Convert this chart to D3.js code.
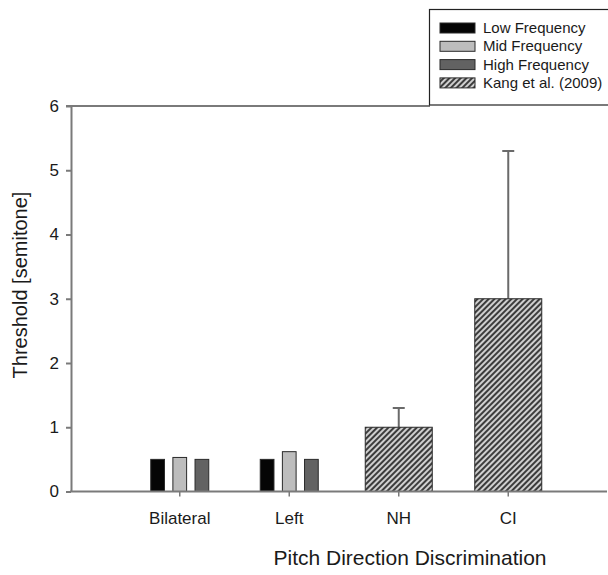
<!DOCTYPE html>
<html>
<head>
<meta charset="utf-8">
<script src="https://cdn.jsdelivr.net/npm/d3@7"></script>
<style>
  body { margin: 0; background: #fff; }
  svg { display: block; font-family: "Liberation Sans", Arial, sans-serif; }
</style>
</head>
<body>
<div id="chart"></div>
<script>
// Pitch direction discrimination thresholds
const categories = ['Bilateral', 'Left', 'NH', 'CI'];
const freqGroups = ['Bilateral', 'Left'];
const lowFreq = [0.5, 0.5];
const midFreq = [0.53, 0.62];
const highFreq = [0.5, 0.5];
const kangGroups = ['NH', 'CI'];
const kangValues = [1.0, 3.0];
const kangErr = [0.3, 2.3];
const yTicks = [0, 1, 2, 3, 4, 5, 6];
const legendLabels = ['Low Frequency', 'Mid Frequency', 'High Frequency', 'Kang et al. (2009)'];

const width = 608, height = 575;
const axisColor = '#7a7a7a';
const textColor = '#1a1a1a';
const fontFamily = '"Liberation Sans", Arial, sans-serif';
const fills = ['#050505', '#bdbdbd', '#626262'];

const svg = d3.select('#chart').append('svg')
    .attr('width', width)
    .attr('height', height);

const defs = svg.append('defs');
const hatch = defs.append('pattern')
    .attr('id', 'hatch')
    .attr('patternUnits', 'userSpaceOnUse')
    .attr('width', 4)
    .attr('height', 4)
    .attr('patternTransform', 'rotate(45)');
hatch.append('rect').attr('width', 4).attr('height', 4).attr('fill', '#cfcfcf');
hatch.append('rect').attr('width', 2).attr('height', 4).attr('fill', '#3c3c3c');

// scales
const x = d3.scaleBand().domain(categories).range([125, 563]).padding(0);
const y = d3.scaleLinear().domain([0, 6]).range([491.5, 106]);

// three small bars inside each frequency group
const sub = d3.scaleBand().domain([0, 1, 2]).range([-29, 29]).paddingInner(0.38);
const kangWidth = 67;

// top frame line
svg.append('line')
    .attr('x1', 66).attr('x2', 430)
    .attr('y1', y(6)).attr('y2', y(6))
    .attr('stroke', axisColor).attr('stroke-width', 2);

// bars
const freqSeries = [lowFreq, midFreq, highFreq];
freqSeries.forEach((vals, s) => {
    svg.append('g').selectAll('rect')
        .data(freqGroups)
        .enter().append('rect')
        .attr('x', (d, i) => x(d) + x.bandwidth() / 2 + sub(s))
        .attr('y', (d, i) => y(vals[i]))
        .attr('width', sub.bandwidth())
        .attr('height', (d, i) => y(0) - y(vals[i]))
        .attr('fill', fills[s])
        .attr('stroke', '#2a2a2a')
        .attr('stroke-width', 1);
});

// error bars for Kang et al. (upper only)
const errG = svg.append('g');
kangGroups.forEach((d, i) => {
    const cx = x(d) + x.bandwidth() / 2;
    errG.append('line')
        .attr('x1', cx).attr('x2', cx)
        .attr('y1', y(kangValues[i])).attr('y2', y(kangValues[i] + kangErr[i]))
        .attr('stroke', '#6a6a6a').attr('stroke-width', 2);
    errG.append('line')
        .attr('x1', cx - 6).attr('x2', cx + 6)
        .attr('y1', y(kangValues[i] + kangErr[i])).attr('y2', y(kangValues[i] + kangErr[i]))
        .attr('stroke', '#6a6a6a').attr('stroke-width', 2);
});

svg.append('g').selectAll('rect')
    .data(kangGroups)
    .enter().append('rect')
    .attr('x', d => x(d) + x.bandwidth() / 2 - kangWidth / 2)
    .attr('y', (d, i) => y(kangValues[i]))
    .attr('width', kangWidth)
    .attr('height', (d, i) => y(0) - y(kangValues[i]))
    .attr('fill', 'url(#hatch)')
    .attr('stroke', '#2a2a2a')
    .attr('stroke-width', 1);

// y axis
const yAxis = svg.append('g')
    .attr('transform', 'translate(71,0)')
    .call(d3.axisLeft(y).tickValues(yTicks).tickSize(5).tickSizeOuter(0).tickFormat(d3.format('d')))
    .attr('font-family', fontFamily);
yAxis.select('.domain').attr('stroke', axisColor).attr('stroke-width', 2);
yAxis.selectAll('.tick line').attr('stroke', axisColor).attr('stroke-width', 2);
yAxis.selectAll('.tick text')
    .attr('x', -12)
    .attr('fill', textColor)
    .style('font-size', '17px');

// x axis
svg.append('line')
    .attr('x1', 70).attr('x2', 607)
    .attr('y1', y(0)).attr('y2', y(0))
    .attr('stroke', axisColor).attr('stroke-width', 2);
const xAxis = svg.append('g')
    .attr('transform', `translate(0,${y(0)})`)
    .call(d3.axisBottom(x).tickSize(5).tickSizeOuter(0))
    .attr('font-family', fontFamily);
xAxis.select('.domain').remove();
xAxis.selectAll('.tick line').attr('stroke', axisColor).attr('stroke-width', 1.5);
xAxis.selectAll('.tick text')
    .attr('y', 20)
    .attr('fill', textColor)
    .style('font-size', '17px');

// axis titles
svg.append('text')
    .attr('transform', 'translate(27,285) rotate(-90)')
    .attr('text-anchor', 'middle')
    .attr('fill', textColor)
    .style('font-size', '20px')
    .text('Threshold [semitone]');

svg.append('text')
    .attr('x', 410)
    .attr('y', 565)
    .attr('text-anchor', 'middle')
    .attr('fill', textColor)
    .style('font-size', '21px')
    .text('Pitch Direction Discrimination');

// legend
const legend = svg.append('g');
legend.append('rect')
    .attr('x', 429.5).attr('y', 9.5)
    .attr('width', 190).attr('height', 95.5)
    .attr('fill', '#fff')
    .attr('stroke', '#222').attr('stroke-width', 1.2);
const legendFills = [fills[0], fills[1], fills[2], 'url(#hatch)'];
legendLabels.forEach((label, i) => {
    const ly = 28 + i * 18.3;
    legend.append('rect')
        .attr('x', 440).attr('y', ly - 5)
        .attr('width', 35).attr('height', 10)
        .attr('fill', legendFills[i])
        .attr('stroke', '#2a2a2a').attr('stroke-width', 1);
    legend.append('text')
        .attr('x', 483).attr('y', ly + 5)
        .attr('fill', textColor)
        .style('font-size', '15px')
        .text(label);
});
</script>
</body>
</html>
